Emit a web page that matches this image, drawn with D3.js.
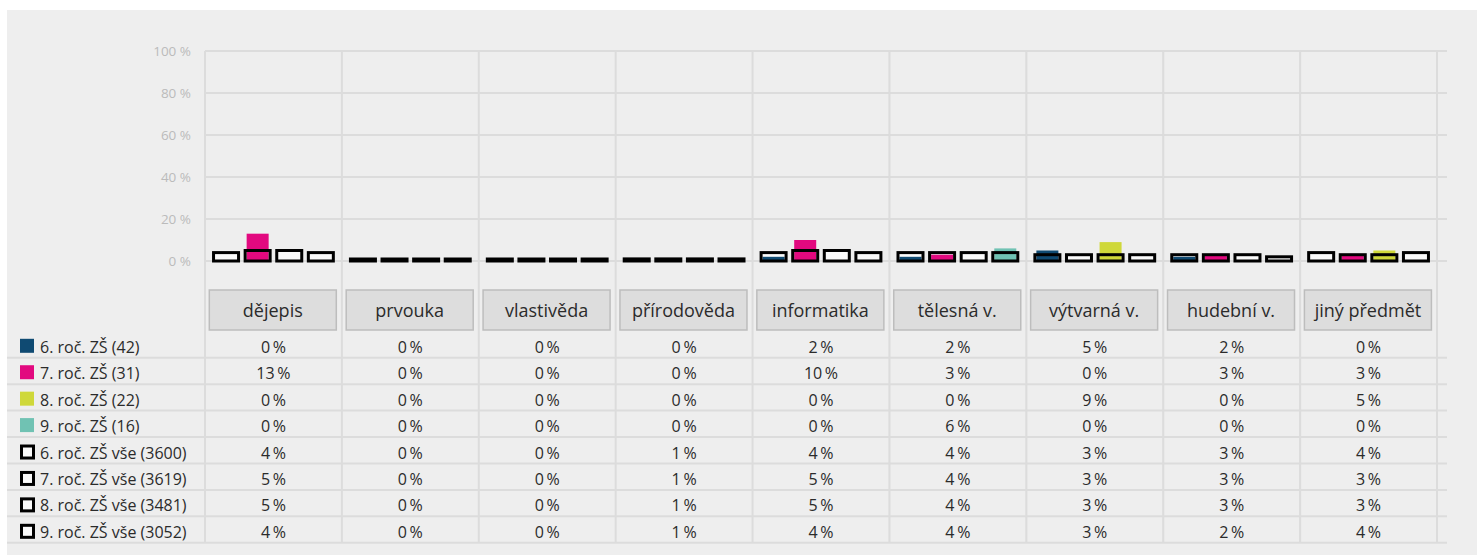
<!DOCTYPE html>
<html>
<head>
<meta charset="utf-8">
<script src="https://cdn.jsdelivr.net/npm/d3@7"></script>
<style>
  html, body { margin: 0; padding: 0; background: #ffffff; }
  svg { display: block; font-family: "Open Sans", "Noto Sans", sans-serif; }
</style>
</head>
<body>
<svg id="chart" width="1477" height="555"></svg>
<script>
// Subjects (categories along the x axis)
const categories = ["dějepis", "prvouka", "vlastivěda", "přírodověda", "informatika",
                    "tělesná v.", "výtvarná v.", "hudební v.", "jiný předmět"];

// Sample groups (filled bars)
const sampleNames = ["6. roč. ZŠ (42)", "7. roč. ZŠ (31)", "8. roč. ZŠ (22)", "9. roč. ZŠ (16)"];
const sample6 = [0, 0, 0, 0, 2, 2, 5, 2, 0];
const sample7 = [13, 0, 0, 0, 10, 3, 0, 3, 3];
const sample8 = [0, 0, 0, 0, 0, 0, 9, 0, 5];
const sample9 = [0, 0, 0, 0, 0, 6, 0, 0, 0];

// Whole population per grade (outlined bars)
const allNames = ["6. roč. ZŠ vše (3600)", "7. roč. ZŠ vše (3619)", "8. roč. ZŠ vše (3481)", "9. roč. ZŠ vše (3052)"];
const all6 = [4, 0, 0, 1, 4, 4, 3, 3, 4];
const all7 = [5, 0, 0, 1, 5, 4, 3, 3, 3];
const all8 = [5, 0, 0, 1, 5, 4, 3, 3, 3];
const all9 = [4, 0, 0, 1, 4, 4, 3, 2, 4];

const yTicks = [0, 20, 40, 60, 80, 100];
const colors = ["#0f4a72", "#e2097f", "#cfd83a", "#70c2b3"];

const samples = [sample6, sample7, sample8, sample9];
const alls = [all6, all7, all8, all9];

const svg = d3.select("#chart");
const fmt = v => v + "\u2009%";
const textColor = "#2b2b2b";

// Background panel
svg.append("rect").attr("x", 7).attr("y", 10).attr("width", 1470).attr("height", 545).attr("fill", "#eeeeee");

const plotLeft = 205, plotRight = 1437, gridRight = 1447;
const x0 = d3.scaleBand().domain(categories).range([plotLeft, plotRight]).padding(0);
const x1 = d3.scaleBand().domain([0, 1, 2, 3]).range([0, x0.bandwidth()]).paddingInner(0).paddingOuter(0.166);
const y = d3.scaleLinear().domain([0, 100]).range([261, 51]);

const rowTop = 331.3, rowH = 26.43;
const tableBottom = rowTop + rowH * 8;

// Horizontal grid lines
svg.append("g").selectAll("line").data(yTicks).join("line")
  .attr("x1", plotLeft).attr("x2", gridRight)
  .attr("y1", d => y(d)).attr("y2", d => y(d))
  .attr("stroke", "#dcdcdc").attr("stroke-width", 2);

// Vertical column separators (through plot, labels and table)
const vx = categories.map(c => x0(c)).concat([plotRight]);
svg.append("g").selectAll("line").data(vx).join("line")
  .attr("x1", d => d).attr("x2", d => d)
  .attr("y1", y(100)).attr("y2", tableBottom)
  .attr("stroke", "#dcdcdc").attr("stroke-width", 2);

// Y axis labels
const yAxis = d3.axisLeft(y).tickValues(yTicks).tickFormat(d => d + " %").tickSize(0).tickPadding(0);
const ya = svg.append("g").attr("transform", "translate(191,0)").call(yAxis);
ya.select(".domain").remove();
ya.selectAll("text").attr("fill", "#bbbbbb").style("font-size", "13.5px")
  .style("font-family", "'Open Sans', sans-serif");

// Bars
const bars = svg.append("g");
categories.forEach((c, ci) => {
  const g = bars.append("g").attr("transform", `translate(${x0(c)},0)`);
  [0, 1, 2, 3].forEach(k => {
    const cx = x1(k) + x1.bandwidth() / 2;
    const av = alls[k][ci], sv = samples[k][ci];
    const ow = 25;
    const top = Math.min(y(av), y(0) - 2);
    // outlined bar interior
    g.append("rect").attr("x", cx - ow / 2).attr("y", top).attr("width", ow)
      .attr("height", y(0) - top).attr("fill", "#fafafa");
    // filled sample bar
    if (sv > 0) {
      g.append("rect").attr("x", cx - 11).attr("y", y(sv)).attr("width", 22)
        .attr("height", y(0) - y(sv)).attr("fill", colors[k]);
    }
    // outline stroke
    g.append("rect").attr("x", cx - ow / 2).attr("y", top).attr("width", ow)
      .attr("height", y(0) - top).attr("fill", "none")
      .attr("stroke", "#000").attr("stroke-width", 3);
  });
});

// Category label boxes
const lab = svg.append("g");
categories.forEach(c => {
  lab.append("rect").attr("x", x0(c) + 4.3).attr("y", 290).attr("width", 127).attr("height", 40)
    .attr("fill", "#dddddd").attr("stroke", "#bdbdbd").attr("stroke-width", 1.5);
  lab.append("text").attr("x", x0(c) + 4.3 + 63.5).attr("y", 316.5)
    .attr("text-anchor", "middle").attr("fill", textColor).style("font-size", "18px").text(c);
});

// Table rows
const rows = sampleNames.map((n, i) => ({ name: n, values: samples[i], color: colors[i], hollow: false }))
  .concat(allNames.map((n, i) => ({ name: n, values: alls[i], color: null, hollow: true })));

const tbl = svg.append("g");
rows.forEach((r, i) => {
  const top = rowTop + i * rowH;
  const base = top + 21.5;
  tbl.append("line").attr("x1", 7).attr("x2", gridRight)
    .attr("y1", top + rowH).attr("y2", top + rowH)
    .attr("stroke", "#dcdcdc").attr("stroke-width", 2);
  if (r.hollow) {
    tbl.append("rect").attr("x", 21.5).attr("y", base - 12.5).attr("width", 12).attr("height", 12)
      .attr("fill", "#fafafa").attr("stroke", "#000").attr("stroke-width", 3);
  } else {
    tbl.append("rect").attr("x", 20).attr("y", base - 14).attr("width", 14).attr("height", 14)
      .attr("fill", r.color);
  }
  tbl.append("text").attr("x", 40).attr("y", base).attr("fill", textColor)
    .style("font-size", "16px").text(r.name);
  categories.forEach((c, ci) => {
    tbl.append("text").attr("x", x0(c) + x0.bandwidth() / 2).attr("y", base)
      .attr("text-anchor", "middle").attr("fill", textColor).style("font-size", "16px")
      .text(fmt(r.values[ci]));
  });
});
</script>
</body>
</html>
